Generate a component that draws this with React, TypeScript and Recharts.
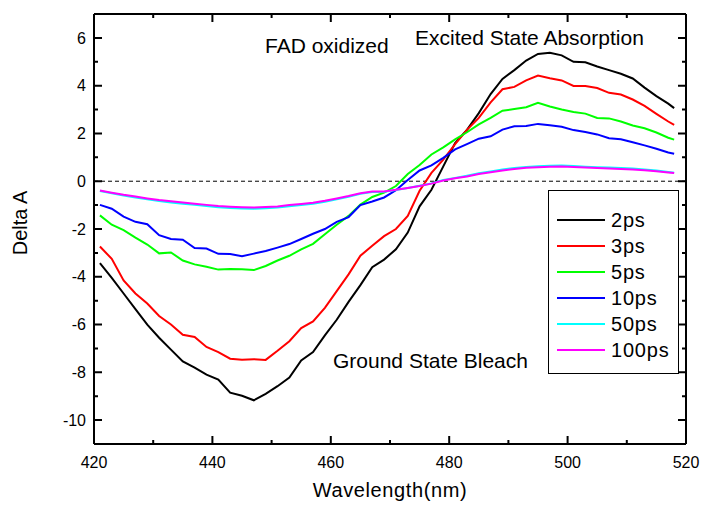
import { LineChart, Line, XAxis, YAxis, ReferenceLine } from 'recharts'

const WAVELENGTHS = [
  421, 423, 425, 427, 429, 431, 433, 435, 437, 439, 441, 443, 445, 447, 449, 451, 453, 455, 457, 459,
  461, 463, 465, 467, 469, 471, 473, 475, 477, 479, 481, 483, 485, 487, 489, 491, 493, 495, 497, 499,
  501, 503, 505, 507, 509, 511, 513, 515, 517, 518,
]

const PS2 = [
  -3.43, -4.05, -4.7, -5.35, -6.0, -6.55, -7.05, -7.54, -7.8, -8.1, -8.3, -8.85, -8.98, -9.17, -8.9, -8.58, -8.22, -7.5, -7.15, -6.45,
  -5.8, -5.05, -4.35, -3.6, -3.28, -2.85, -2.15, -1.05, -0.36, 0.62, 1.6, 2.15, 2.85, 3.65, 4.28, 4.65, 5.05, 5.33, 5.38, 5.27,
  5.0, 4.98, 4.8, 4.65, 4.5, 4.3, 3.92, 3.56, 3.25, 3.06,
]
const PS3 = [
  -2.73, -3.25, -4.15, -4.7, -5.12, -5.64, -6.0, -6.43, -6.52, -6.94, -7.15, -7.43, -7.47, -7.45, -7.48, -7.1, -6.7, -6.15, -5.87, -5.3,
  -4.6, -3.9, -3.12, -2.7, -2.3, -2.0, -1.45, -0.4, 0.35, 0.9, 1.55, 2.15, 2.65, 3.3, 3.85, 3.95, 4.22, 4.42, 4.31, 4.22,
  3.99, 3.99, 3.9, 3.7, 3.63, 3.42, 3.15, 2.82, 2.5, 2.36,
]
const PS5 = [
  -1.43, -1.82, -2.05, -2.36, -2.65, -3.02, -2.98, -3.32, -3.48, -3.58, -3.7, -3.67, -3.68, -3.72, -3.55, -3.32, -3.12, -2.85, -2.62, -2.22,
  -1.82, -1.45, -0.98, -0.66, -0.48, -0.2, 0.3, 0.68, 1.12, 1.42, 1.75, 2.05, 2.38, 2.65, 2.95, 3.02, 3.1, 3.28, 3.13, 3.0,
  2.9, 2.83, 2.65, 2.63, 2.5, 2.33, 2.22, 2.04, 1.82, 1.74,
]
const PS10 = [
  -0.99, -1.15, -1.48, -1.7, -1.8, -2.26, -2.42, -2.45, -2.8, -2.82, -3.04, -3.05, -3.14, -3.03, -2.92, -2.78, -2.63, -2.42, -2.2, -2.0,
  -1.7, -1.5, -1.0, -0.85, -0.68, -0.38, 0.05, 0.45, 0.66, 0.98, 1.33, 1.55, 1.78, 1.88, 2.16, 2.3, 2.31, 2.4, 2.34, 2.28,
  2.14, 2.06, 1.96, 1.8, 1.76, 1.63, 1.5, 1.36, 1.2, 1.15,
]
const PS50 = [
  -0.41, -0.5, -0.6, -0.68, -0.76, -0.83, -0.89, -0.94, -0.99, -1.04, -1.09, -1.12, -1.14, -1.15, -1.13, -1.1, -1.05, -1.0, -0.94, -0.86,
  -0.76, -0.65, -0.53, -0.45, -0.44, -0.37, -0.28, -0.19, -0.09, 0.05, 0.14, 0.23, 0.33, 0.41, 0.49, 0.55, 0.6, 0.63, 0.65, 0.66,
  0.64, 0.61, 0.59, 0.57, 0.55, 0.53, 0.49, 0.45, 0.39, 0.36,
]
const PS100 = [
  -0.39, -0.48, -0.57, -0.64, -0.72, -0.79, -0.84, -0.89, -0.94, -0.99, -1.04, -1.07, -1.09, -1.1, -1.08, -1.06, -1.0, -0.95, -0.9, -0.82,
  -0.72, -0.62, -0.5, -0.43, -0.43, -0.36, -0.28, -0.2, -0.1, 0.03, 0.12, 0.2, 0.3, 0.38, 0.45, 0.51, 0.56, 0.59, 0.61, 0.62,
  0.6, 0.57, 0.55, 0.53, 0.51, 0.49, 0.46, 0.42, 0.37, 0.34,
]

const SERIES = [
  { key: 'ps2', name: '2ps', color: '#000000', values: PS2 },
  { key: 'ps3', name: '3ps', color: '#ff0000', values: PS3 },
  { key: 'ps5', name: '5ps', color: '#00ff00', values: PS5 },
  { key: 'ps10', name: '10ps', color: '#0000ff', values: PS10 },
  { key: 'ps50', name: '50ps', color: '#00ffff', values: PS50 },
  { key: 'ps100', name: '100ps', color: '#ff00ff', values: PS100 },
]

const X_MAJOR = [420, 440, 460, 480, 500, 520]
const X_MINOR = [430, 450, 470, 490, 510]
const Y_MAJOR = [-10, -8, -6, -4, -2, 0, 2, 4, 6]
const Y_MINOR = [-9, -7, -5, -3, -1, 1, 3, 5]

const data = WAVELENGTHS.map((wl, i) => {
  const row: Record<string, number> = { wl }
  SERIES.forEach((s) => {
    row[s.key] = s.values[i]
  })
  return row
})

const FONT = '"Liberation Sans", Arial, sans-serif'
const W = 701
const H = 506
const MARGIN = { top: 14, right: 15, bottom: 0, left: 0 }
const Y_AXIS_W = 94
const X_AXIS_H = 62
const X_DOMAIN = [420, 520]
const Y_DOMAIN = [-11, 7]
const tickFont = { fill: '#000', fontSize: 16, fontFamily: FONT }

// plot box, same numbers the chart margins give
const PLOT_L = MARGIN.left + Y_AXIS_W
const PLOT_T = MARGIN.top
const PLOT_W = W - MARGIN.left - MARGIN.right - Y_AXIS_W
const PLOT_H = H - MARGIN.top - MARGIN.bottom - X_AXIS_H
const PLOT_R = PLOT_L + PLOT_W
const PLOT_B = PLOT_T + PLOT_H
const toPx = (v: number) => PLOT_L + ((v - X_DOMAIN[0]) / (X_DOMAIN[1] - X_DOMAIN[0])) * PLOT_W
const toPy = (v: number) => PLOT_T + ((Y_DOMAIN[1] - v) / (Y_DOMAIN[1] - Y_DOMAIN[0])) * PLOT_H

// inward ticks on all four sides of the frame
function FrameTicks() {
  const segs: string[] = []
  const add = (vals: number[], len: number, vertical: boolean) => {
    vals.forEach((v) => {
      if (vertical) {
        const x = toPx(v)
        segs.push(`M${x},${PLOT_B}v${-len}`, `M${x},${PLOT_T}v${len}`)
      } else {
        const y = toPy(v)
        segs.push(`M${PLOT_L},${y}h${len}`, `M${PLOT_R},${y}h${-len}`)
      }
    })
  }
  add(X_MAJOR, 8, true)
  add(X_MINOR, 4, true)
  add(Y_MAJOR, 8, false)
  add(Y_MINOR, 4, false)
  return <path d={segs.join('')} stroke="#000" strokeWidth={2} fill="none" />
}

function YTitle({ viewBox }: any) {
  const cx = 20
  const cy = viewBox.y + viewBox.height / 2 - 6
  return (
    <text x={cx} y={cy} transform={`rotate(-90 ${cx} ${cy})`} textAnchor="middle" dominantBaseline="central" fontSize={20} fill="#000" fontFamily={FONT}>
      Delta A
    </text>
  )
}

export default function App() {
  return (
    <div style={{ position: 'absolute', left: 0, top: 0, width: W, height: H, background: '#fff', fontFamily: FONT }}>
      <LineChart width={W} height={H} data={data} margin={MARGIN}>
        <XAxis
          dataKey="wl"
          type="number"
          domain={X_DOMAIN}
          ticks={X_MAJOR}
          interval={0}
          height={X_AXIS_H}
          tickSize={0}
          tickMargin={13}
          tickLine={false}
          axisLine={false}
          tick={tickFont}
          label={{ value: 'Wavelength(nm)', position: 'insideBottom', offset: 9, fontSize: 20, fill: '#000', fontFamily: FONT, letterSpacing: 0.6 }}
        />
        <YAxis
          type="number"
          domain={Y_DOMAIN}
          ticks={Y_MAJOR}
          interval={0}
          width={Y_AXIS_W}
          tickSize={0}
          tickMargin={8}
          tickLine={false}
          axisLine={false}
          tick={tickFont}
          label={{ content: <YTitle /> }}
        />
        <ReferenceLine y={0} stroke="#000" strokeWidth={1} strokeDasharray="4 3" />
        {SERIES.map((s) => (
          <Line
            key={s.key}
            dataKey={s.key}
            name={s.name}
            type="linear"
            stroke={s.color}
            strokeWidth={2}
            dot={false}
            isAnimationActive={false}
          />
        ))}
        <ReferenceLine x={X_DOMAIN[0]} stroke="#000" strokeWidth={2} />
        <ReferenceLine x={X_DOMAIN[1]} stroke="#000" strokeWidth={2} />
        <ReferenceLine y={Y_DOMAIN[0]} stroke="#000" strokeWidth={2} />
        <ReferenceLine y={Y_DOMAIN[1]} stroke="#000" strokeWidth={2} />
      </LineChart>
      <svg width={W} height={H} style={{ position: 'absolute', left: 0, top: 0, pointerEvents: 'none' }} fontFamily={FONT}>
        <FrameTicks />
        <text x={265} y={53} fontSize={21} fill="#000">FAD oxidized</text>
        <text x={415} y={45} fontSize={21} fill="#000">Excited State Absorption</text>
        <text x={333} y={368} fontSize={21} fill="#000">Ground State Bleach</text>
        <rect x={548.5} y={190.5} width={130} height={183} fill="#fff" stroke="#000" strokeWidth={1} />
        {SERIES.map((s, i) => (
          <g key={s.key}>
            <line x1={557} x2={605} y1={220 + i * 26} y2={220 + i * 26} stroke={s.color} strokeWidth={2} />
            <text x={611} y={220 + i * 26} dominantBaseline="central" fontSize={20} fill="#000" letterSpacing={0.8}>
              {s.name}
            </text>
          </g>
        ))}
      </svg>
    </div>
  )
}
